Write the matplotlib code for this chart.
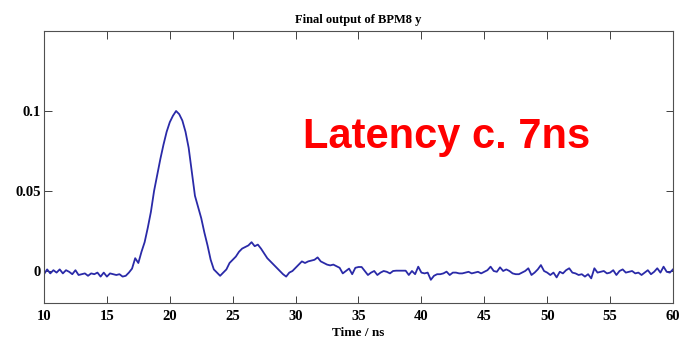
import matplotlib
matplotlib.use("Agg")
import matplotlib.pyplot as plt
import numpy as np

# ---- data ----
time_ns = np.arange(10.0, 60.0001, 0.25)
signal = [
    -0.002, 0.001, -0.0015, 0.0005, -0.001, 0.0010, -0.0015, 0.0005, -0.0005, -0.002,
    0.0005, -0.0025, -0.002, -0.0015, -0.003, -0.0015, -0.002, -0.001, -0.0035, -0.001,
    -0.0035, -0.0015, -0.002, -0.0025, -0.002, -0.0035, -0.003, -0.001, 0.0015, 0.008,
    0.005, 0.012, 0.018, 0.027, 0.037, 0.050, 0.060, 0.070, 0.079, 0.087,
    0.093, 0.097, 0.100, 0.098, 0.094, 0.087, 0.077, 0.062, 0.047, 0.040,
    0.033, 0.024, 0.016, 0.007, 0.001, -0.001, -0.003, -0.001, 0.001, 0.005,
    0.007, 0.009, 0.012, 0.014, 0.015, 0.016, 0.018, 0.0155, 0.0165, 0.014,
    0.011, 0.008, 0.006, 0.004, 0.002, 0.000, -0.002, -0.0035, -0.001, 0.000,
    0.002, 0.004, 0.006, 0.005, 0.006, 0.0065, 0.007, 0.0085, 0.006, 0.005,
    0.004, 0.0035, 0.004, 0.003, 0.002, -0.0015, 0.000, 0.0015, -0.002, 0.002,
    0.0025, 0.0025, 0.000, -0.0025, -0.001, 0.000, -0.0025, -0.001, 0.000, -0.0005,
    -0.0015, 0.000, 0.0002, 0.0002, 0.0002, 0.0002, -0.0025, 0.000, -0.002, 0.0027,
    -0.001, -0.0015, -0.001, -0.0055, -0.003, -0.002, -0.002, -0.0015, -0.0004, -0.0025,
    -0.001, -0.001, -0.0015, -0.0015, -0.001, -0.0005, -0.0015, -0.001, -0.0005, -0.0015,
    -0.0005, 0.0005, 0.0027, 0.000, -0.0005, 0.0023, 0.000, 0.001, 0.000, -0.0015,
    -0.002, -0.002, -0.001, 0.000, 0.0017, -0.0025, -0.001, 0.001, 0.0037, 0.000,
    -0.001, -0.0025, -0.001, -0.004, -0.0005, -0.0015, 0.0005, 0.0017, -0.001, -0.0015,
    -0.0025, -0.002, -0.0035, -0.002, -0.0046, 0.0017, -0.001, -0.0005, 0.000, -0.0015,
    -0.001, 0.0005, -0.0025, 0.000, 0.001, -0.001, -0.0005, 0.000, -0.0015, -0.001,
    -0.0025, -0.001, 0.0005, -0.002, -0.0005, 0.0017, -0.001, 0.0027, -0.0005, -0.001,
    0.001,
]
x_ticks = [10, 15, 20, 25, 30, 35, 40, 45, 50, 55, 60]
y_ticks = [0, 0.05, 0.1]
y_tick_labels = ["0", "0.05", "0.1"]
title_text = "Final output of BPM8 y"
xlabel_text = "Time / ns"
annotation_text = "Latency c. 7ns"

plt.rcParams['font.family'] = ['Liberation Serif', 'DejaVu Serif']

fig = plt.figure(figsize=(6.82, 3.47), dpi=100)
ax = fig.add_axes([0.0645, 0.1268, 0.9223, 0.7839])

ax.plot(time_ns, signal, color='#2a2aa8', lw=1.3)

ax.set_xlim(10, 60)
ax.set_ylim(-0.02, 0.15)
ax.set_xticks(x_ticks)
ax.set_xticklabels([str(v) for v in x_ticks])
ax.set_yticks(y_ticks)
ax.set_yticklabels(y_tick_labels)
ax.tick_params(direction='in', length=5.4, width=0.7, color='#404040',
               top=True, right=True, labelsize=10.5)
ax.tick_params(axis='x', pad=5)
ax.tick_params(axis='y', pad=2.5)
for lbl in ax.get_xticklabels() + ax.get_yticklabels():
    lbl.set_fontweight('bold')
for s in ax.spines.values():
    s.set_color('#505050')
    s.set_linewidth(0.8)

ax.set_title(title_text, fontsize=9, fontweight='bold', pad=5.5)
ax.set_xlabel(xlabel_text, fontsize=9.5, fontweight='bold', labelpad=3)

ax.text(30.56, 0.0767, annotation_text, color='#ff0000', fontsize=30,
        fontweight='bold', family=['Liberation Sans', 'DejaVu Sans'],
        ha='left', va='baseline')

fig.savefig('out.png', dpi=100)
